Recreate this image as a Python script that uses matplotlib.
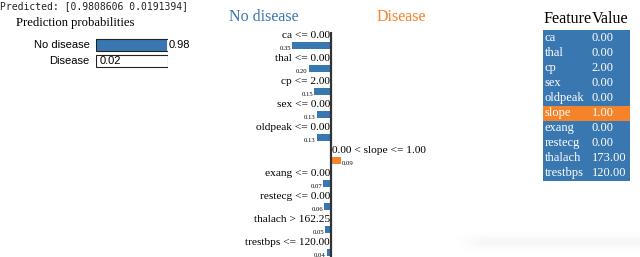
import matplotlib
matplotlib.use("Agg")
from matplotlib import pyplot as plt
import numpy as np

# data
predicted_text = "Predicted: [0.9808606 0.0191394]"
class_names = ["No disease", "Disease"]
class_probs = [0.98, 0.02]

rules = ["ca <= 0.00", "thal <= 0.00", "cp <= 2.00", "sex <= 0.00",
         "oldpeak <= 0.00", "0.00 < slope <= 1.00", "exang <= 0.00",
         "restecg <= 0.00", "thalach > 162.25", "trestbps <= 120.00"]
weights = [-0.35, -0.20, -0.15, -0.13, -0.13, 0.09, -0.07, -0.06, -0.05, -0.04]

features = ["ca", "thal", "cp", "sex", "oldpeak", "slope", "exang",
            "restecg", "thalach", "trestbps"]
feat_values = [0.00, 0.00, 2.00, 0.00, 0.00, 1.00, 0.00, 0.00, 173.00, 120.00]

BLUE = "#3977b1"
ORANGE = "#f5832a"
colors = [BLUE, ORANGE]
SERIF = "Liberation Serif"
SANS = "Liberation Sans"

W, H = 640, 257
fig = plt.figure(figsize=(W / 100, H / 100), dpi=100)


def px(x0, y0, x1, y1):
    return [x0 / W, 1 - y1 / H, (x1 - x0) / W, (y1 - y0) / H]


# faint shadow band at the bottom right
axs = fig.add_axes(px(455, 228, 640, 256))
axs.axis("off")
gx = np.clip(np.linspace(0, 1, 200) / 0.15, 0, 1)
gy = np.exp(-((np.linspace(-1, 1, 40)) / 0.45) ** 2)
axs.imshow(np.outer(gy, gx), cmap="Greys", vmin=0, vmax=14, aspect="auto",
           interpolation="bilinear")

fig.text(0, 1 - 6 / H, predicted_text, family="DejaVu Sans Mono",
         fontsize=7, va="center", ha="left", color="#222222")

# prediction probabilities
fig.text(16 / W, 1 - 23 / H, "Prediction probabilities", family=SERIF,
         fontsize=9.1, va="center", ha="left")
ax1 = fig.add_axes(px(96, 37, 168, 69))
ax1.set_xlim(0, 1)
ax1.set_ylim(1.5, -0.5)
ax1.axis("off")
for i, (name, p) in enumerate(zip(class_names, class_probs)):
    ax1.barh(i, 1, height=0.7, color="white", edgecolor="none")
    ax1.barh(i, p, height=0.7, color=colors[i], edgecolor="none")
    ax1.barh(i, 1, height=0.7, color="none", edgecolor="#222222", lw=0.8)
    ax1.text(p + 0.03, i, f"{p:.2f}", family=SANS, fontsize=8,
             va="center", ha="left")
    ax1.text(-0.09, i, name, family=SANS, fontsize=8, va="center", ha="right")

# explanation
fig.text(229 / W, 1 - 17 / H, "No disease", family=SERIF, fontsize=11.5,
         color=BLUE, va="center", ha="left")
fig.text(377 / W, 1 - 17 / H, "Disease", family=SERIF, fontsize=11.5,
         color=ORANGE, va="center", ha="left")

ax2 = fig.add_axes(px(230, 32, 440, 257))
x0 = (331 - 230) / 111.0
ax2.set_xlim(-x0, (440 - 230) / 111.0 - x0)
ax2.set_ylim((257 - 45.5) / 23, (32 - 45.5) / 23)
ax2.axis("off")
ys = np.arange(len(rules))
ax2.barh(ys, weights, height=0.32,
         color=[ORANGE if w > 0 else BLUE for w in weights])
ax2.axvline(0, color="#333333", lw=1.6)
for y, r, w in zip(ys, rules, weights):
    if w < 0:
        ax2.text(-0.01, y - 0.42, r, family=SERIF, fontsize=8.2,
                 ha="right", va="center")
        ax2.text(w - 0.01, y + 0.12, f"{abs(w):.2f}", family=SERIF,
                 fontsize=4.8, ha="right", va="center")
    else:
        ax2.text(0.01, y - 0.42, r, family=SERIF, fontsize=8.2,
                 ha="left", va="center")
        ax2.text(w + 0.01, y + 0.12, f"{abs(w):.2f}", family=SERIF,
                 fontsize=4.8, ha="left", va="center")

# feature value table
fig.text(543 / W, 1 - 19 / H, "Feature", family=SERIF, fontsize=11.6,
         va="center", ha="left")
fig.text(592 / W, 1 - 19 / H, "Value", family=SERIF, fontsize=11.6,
         va="center", ha="left")
ax3 = fig.add_axes(px(543, 30, 630, 181))
ax3.set_xlim(0, 1)
ax3.set_ylim(len(features) - 0.5, -0.5)
ax3.axis("off")
row_cols = [ORANGE if w > 0 else BLUE for w in weights]
ax3.barh(np.arange(len(features)), 1, height=1.0, left=0, color=row_cols)
for i, (f, v) in enumerate(zip(features, feat_values)):
    ax3.text(0.02, i, f, family=SERIF, fontsize=9, color="white",
             va="center", ha="left")
    ax3.text(0.56, i, f"{v:.2f}", family=SERIF, fontsize=9, color="white",
             va="center", ha="left")

fig.savefig("out.png", dpi=100)
